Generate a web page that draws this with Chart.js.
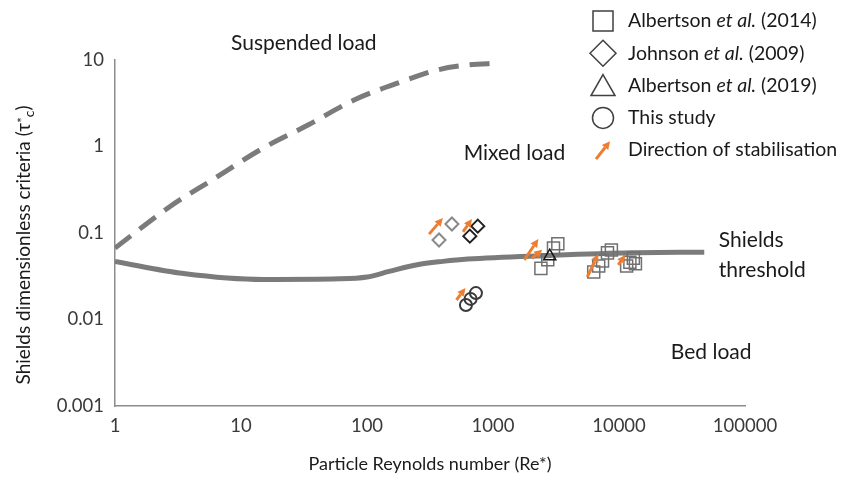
<!DOCTYPE html>
<html>
<head>
<meta charset="utf-8">
<script src="https://cdn.jsdelivr.net/npm/chart.js@4.4.0/dist/chart.umd.min.js"></script>
<style>
  html, body { margin: 0; padding: 0; background: #fff; }
  #wrap { width: 841px; height: 479px; }
</style>
</head>
<body>
<div id="wrap"><canvas id="shieldsChart" width="841" height="479"></canvas></div>
<script>
var xTicks = [1, 10, 100, 1000, 10000, 100000];
var yTicks = [0.001, 0.01, 0.1, 1, 10];

// Shields threshold curve
var shieldsRe = [1, 3.5, 15, 60, 100, 150, 250, 400, 630, 2840, 12600, 47500];
var shieldsTau = [0.047, 0.034, 0.029, 0.0295, 0.031, 0.036, 0.043, 0.047, 0.050, 0.055, 0.059, 0.060];

// suspended load limit (dashed)
var suspRe = [1, 2.7, 5.9, 15, 34, 79, 187, 366, 630, 1100];
var suspTau = [0.067, 0.2, 0.41, 0.96, 1.77, 3.45, 5.6, 7.7, 8.75, 9.2];

// Albertson et al. (2014)
var alb14Re = [2400, 2720, 3020, 3270, 6300, 6900, 7400, 8100, 8700, 11500, 12200, 13000, 13500];
var alb14Tau = [0.039, 0.049, 0.067, 0.075, 0.0354, 0.0416, 0.0474, 0.0589, 0.0636, 0.0416, 0.046, 0.051, 0.044];

// Johnson et al. (2009)
var johRe = [373, 472, 655, 757];
var johTau = [0.083, 0.127, 0.092, 0.12];

// Albertson et al. (2019)
var alb19Re = [2820];
var alb19Tau = [0.054];

// This study
var studyRe = [610, 664, 732];
var studyTau = [0.0147, 0.0173, 0.0202];

// direction of stabilisation arrows (from -> to)
var arrowFromRe = [311, 578, 513, 1774, 2040, 5600, 9860];
var arrowFromTau = [0.097, 0.103, 0.0168, 0.049, 0.051, 0.031, 0.0427];
var arrowToRe = [400, 680, 604, 2290, 2460, 6840, 11200];
var arrowToTau = [0.149, 0.145, 0.0231, 0.085, 0.064, 0.057, 0.0557];

// region labels
var regionText = ['Suspended load', 'Mixed load', 'Bed load'];
var regionRe = [31.5, 1480, 53900];
var regionTau = [15.7, 0.84, 0.0042];

var legendItems = [
  ['Albertson ', 'et al.', ' (2014)'],
  ['Johnson ', 'et al.', ' (2009)'],
  ['Albertson ', 'et al.', ' (2019)'],
  ['This study'],
  ['Direction of stabilisation']
];

var FONT = 'Lato';
var ORANGE = '#ED7D31';

function pts(xs, ys) {
  return xs.map(function(x, i) { return {x: x, y: ys[i]}; });
}

function drawArrow(ctx, x1, y1, x2, y2, w, head) {
  var a = Math.atan2(y2 - y1, x2 - x1);
  var bx = x2 - Math.cos(a) * head, by = y2 - Math.sin(a) * head;
  ctx.strokeStyle = ORANGE;
  ctx.fillStyle = ORANGE;
  ctx.lineWidth = w;
  ctx.lineCap = 'butt';
  ctx.beginPath();
  ctx.moveTo(x1, y1);
  ctx.lineTo(bx, by);
  ctx.stroke();
  ctx.beginPath();
  ctx.moveTo(x2, y2);
  ctx.lineTo(bx + Math.sin(a) * head * 0.5, by - Math.cos(a) * head * 0.5);
  ctx.lineTo(bx - Math.sin(a) * head * 0.5, by + Math.cos(a) * head * 0.5);
  ctx.closePath();
  ctx.fill();
}

var overlay = {
  id: 'overlay',
  afterDatasetsDraw: function(chart) {
    var ctx = chart.ctx, xs = chart.scales.x, ys = chart.scales.y;
    ctx.save();
    for (var i = 0; i < arrowFromRe.length; i++) {
      drawArrow(ctx,
        xs.getPixelForValue(arrowFromRe[i]), ys.getPixelForValue(arrowFromTau[i]),
        xs.getPixelForValue(arrowToRe[i]), ys.getPixelForValue(arrowToTau[i]), 3, 8);
    }
    ctx.fillStyle = '#1a1a1a';
    ctx.font = '21px ' + FONT;
    ctx.textAlign = 'center';
    ctx.textBaseline = 'middle';
    for (var j = 0; j < regionText.length; j++) {
      ctx.fillText(regionText[j], xs.getPixelForValue(regionRe[j]), ys.getPixelForValue(regionTau[j]));
    }
    ctx.textAlign = 'left';
    var sx = xs.getPixelForValue(62000);
    ctx.fillText('Shields', sx, ys.getPixelForValue(0.083));
    ctx.fillText('threshold', sx, ys.getPixelForValue(0.037));
    ctx.restore();
  },
  afterDraw: function(chart) {
    var ctx = chart.ctx;
    ctx.save();
    // legend
    var mx = 603, tx = 628, y0 = 21, dy = 32.3;
    ctx.strokeStyle = '#404040';
    ctx.lineWidth = 1.5;
    for (var i = 0; i < legendItems.length; i++) {
      var y = y0 + i * dy;
      ctx.beginPath();
      if (i === 0) ctx.rect(mx - 10, y - 10, 20, 20);
      if (i === 1) { ctx.moveTo(mx - 13, y); ctx.lineTo(mx, y - 13); ctx.lineTo(mx + 13, y); ctx.lineTo(mx, y + 13); ctx.closePath(); }
      if (i === 2) { ctx.moveTo(mx, y - 11); ctx.lineTo(mx + 12, y + 10); ctx.lineTo(mx - 12, y + 10); ctx.closePath(); }
      if (i === 3) ctx.arc(mx, y, 10.5, 0, Math.PI * 2);
      if (i < 4) ctx.stroke();
      if (i === 4) drawArrow(ctx, mx - 7, y + 9, mx + 7, y - 9, 3, 8);
      var x = tx;
      ctx.fillStyle = '#1a1a1a';
      ctx.textBaseline = 'middle';
      ctx.textAlign = 'left';
      legendItems[i].forEach(function(part, k) {
        ctx.font = (k === 1 ? 'italic ' : '') + '19.5px ' + FONT;
        ctx.fillText(part, x, y);
        x += ctx.measureText(part).width;
      });
    }
    // y axis title with subscript
    ctx.translate(24, 245);
    ctx.rotate(-Math.PI / 2);
    ctx.fillStyle = '#1a1a1a';
    ctx.textBaseline = 'middle';
    var parts = [['Shields dimensionless criteria (\u03C4', 19, 0], ['*', 13, -1], ['c', 14, 5], [')', 19, 0]];
    var total = 0;
    parts.forEach(function(p) { ctx.font = p[1] + 'px ' + FONT; total += ctx.measureText(p[0]).width; });
    var px = -total / 2;
    parts.forEach(function(p) {
      ctx.font = p[1] + 'px ' + FONT;
      ctx.fillText(p[0], px, p[2]);
      px += ctx.measureText(p[0]).width;
    });
    ctx.restore();
  }
};

var chart = new Chart(document.getElementById('shieldsChart'), {
  type: 'scatter',
  data: {
    datasets: [{
      label: 'Albertson et al. (2019)',
      data: pts(alb19Re, alb19Tau),
      pointStyle: 'triangle',
      pointRadius: 7,
      pointBorderWidth: 1.5,
      pointBorderColor: '#111',
      pointBackgroundColor: 'rgba(0,0,0,0)'
    }, {
      label: 'Albertson et al. (2014)',
      data: pts(alb14Re, alb14Tau),
      pointStyle: 'rect',
      pointRadius: 8.5,
      pointBorderWidth: 1.5,
      pointBorderColor: '#707070',
      pointBackgroundColor: 'rgba(0,0,0,0)'
    }, {
      label: 'Johnson et al. (2009)',
      data: pts(johRe, johTau),
      pointStyle: 'rectRot',
      pointRadius: 6.5,
      pointBorderWidth: 2,
      pointBorderColor: ['#8a8a8a', '#8a8a8a', '#222', '#222'],
      pointBackgroundColor: 'rgba(0,0,0,0)'
    }, {
      label: 'This study',
      data: pts(studyRe, studyTau),
      pointStyle: 'circle',
      pointRadius: 6,
      pointBorderWidth: 2,
      pointBorderColor: '#3a3a3a',
      pointBackgroundColor: 'rgba(0,0,0,0)'
    }, {
      label: 'Shields threshold',
      data: pts(shieldsRe, shieldsTau),
      showLine: true,
      borderColor: '#7b7b7b',
      borderWidth: 5,
      pointRadius: 0,
      cubicInterpolationMode: 'monotone',
      fill: false
    }, {
      label: 'Suspended load',
      data: pts(suspRe, suspTau),
      showLine: true,
      borderColor: '#7b7b7b',
      borderWidth: 5,
      borderDash: [20, 11],
      pointRadius: 0,
      cubicInterpolationMode: 'monotone',
      fill: false
    }]
  },
  options: {
    responsive: false,
    animation: false,
    layout: { padding: { top: 60, right: 96, bottom: 0, left: 0 } },
    plugins: { legend: { display: false }, tooltip: { enabled: false } },
    scales: {
      x: {
        type: 'logarithmic',
        min: 1,
        max: 100000,
        afterBuildTicks: function(s) { s.ticks = xTicks.map(function(v) { return {value: v}; }); },
        afterFit: function(s) { s.height = 73; },
        grid: { display: false, drawTicks: false },
        border: { display: true, color: '#8c8c8c', width: 1.5 },
        ticks: {
          padding: 9, autoSkip: false, maxRotation: 0, color: '#3a3a3a',
          font: { family: FONT, size: 18.5 },
          callback: function(v) { return String(v); }
        },
        title: {
          display: true, text: 'Particle Reynolds number (Re*)', color: '#1a1a1a',
          font: { family: FONT, size: 18 }, padding: { top: 12 }
        }
      },
      y: {
        type: 'logarithmic',
        min: 0.001,
        max: 10,
        afterBuildTicks: function(s) { s.ticks = yTicks.map(function(v) { return {value: v}; }); },
        afterFit: function(s) { s.width = 115; },
        grid: { display: false, drawTicks: false },
        border: { display: true, color: '#8c8c8c', width: 1.5 },
        ticks: {
          padding: 11, autoSkip: false, color: '#3a3a3a',
          font: { family: FONT, size: 18.5 },
          callback: function(v) { return String(v); }
        }
      }
    }
  },
  plugins: [overlay]
});
</script>
</body>
</html>
